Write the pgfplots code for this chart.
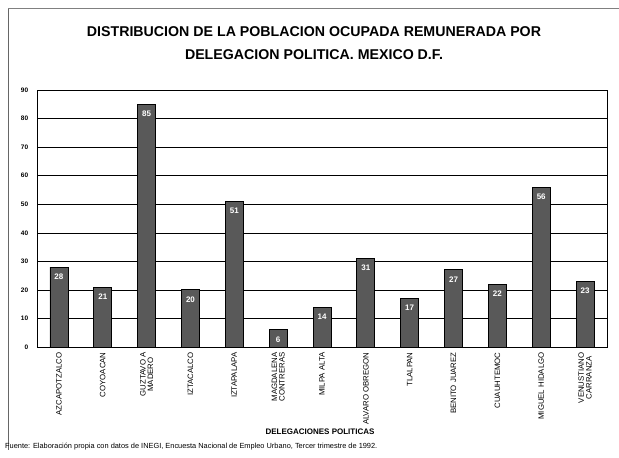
\documentclass[border=0pt]{standalone}
\usepackage{pgfplots}
\pgfplotsset{compat=1.18}
\usepackage{fontspec}
\setmainfont{Liberation Sans}
\begin{document}
\begin{tikzpicture}[x=1pt,y=1pt]
\path[use as bounding box] (0pt,0pt) rectangle (619pt,458pt);
\draw[black!60, line width=0.7pt] (8pt,8pt) -- (8pt,450pt);
\draw[black!50, line width=0.5pt] (8pt,450pt) -- (619pt,450pt);
\begin{axis}[
  at={(37pt,111pt)}, anchor=south west,
  scale only axis, width=570pt, height=257pt,
  ybar, bar width=18pt,
  xmin=-0.5, xmax=12.5, ymin=0, ymax=90,
  ytick={0,10,...,90},
  ymajorgrids, grid style={black, line width=0.5pt},
  axis line style={black, line width=0.8pt},
  xtick={0,...,12},
  xticklabels={AZCAPOTZALCO,COYOACAN,{GUZTAVO A\\MADERO},IZTACALCO,IZTAPALAPA,{MAGDALENA\\CONTRERAS},MILPA ALTA,ALVARO OBREGON,TLALPAN,BENITO JUAREZ,CUAUHTEMOC,MIGUEL HIDALGO,{VENUSTIANO\\CARRANZA}},
  xticklabel style={rotate=90, anchor=east, align=center, font=\fontsize{7.8}{7.6}\selectfont, inner sep=1pt},
  xtick style={draw=none},
  minor xtick={-0.5,0.5,...,12.5},
  minor tick length=4pt,
  tick align=outside,
  minor x tick style={black, line width=0.6pt},
  ytick style={draw=none},
  yticklabel style={font=\bfseries\fontsize{6.5}{7}\selectfont, xshift=-1pt},
  /pgf/number format/assume math mode=true,
  nodes near coords,
  nodes near coords style={anchor=north, yshift=-3pt, white, font=\bfseries\fontsize{8}{8}\selectfont},
  clip=false,
]
\addplot[fill=black!65, draw=black, line width=0.8pt] coordinates {
(0,28) (1,21) (2,85) (3,20) (4,51) (5,6) (6,14) (7,31) (8,17) (9,27) (10,22) (11,56) (12,23)};
\end{axis}
\node[font=\bfseries\fontsize{14.2}{23}\selectfont, align=center, anchor=center] at (314pt,414.5pt) {DISTRIBUCION DE LA POBLACION OCUPADA REMUNERADA POR\\DELEGACION POLITICA. MEXICO D.F.};
\node[font=\bfseries\fontsize{8}{8}\selectfont, anchor=center] at (320pt,26pt) {DELEGACIONES POLITICAS};
\node[font=\fontsize{7.4}{8}\selectfont, anchor=west, inner sep=0pt] at (5pt,11pt) {Fuente: Elaboración propia con datos de INEGI, Encuesta Nacional de Empleo Urbano, Tercer trimestre de 1992.};
\end{tikzpicture}
\end{document}
